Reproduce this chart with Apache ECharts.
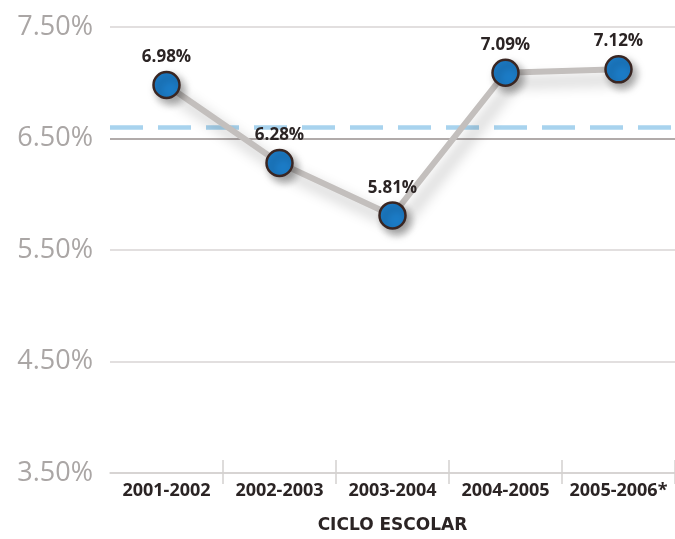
<!DOCTYPE html>
<html>
<head>
<meta charset="utf-8">
<script src="https://cdn.jsdelivr.net/npm/echarts@6/dist/echarts.min.js"></script>
<style>
  html, body { margin: 0; padding: 0; background: #fff; }
  #chart { width: 675px; height: 539px; }
</style>
</head>
<body>
<div id="chart"></div>
<script>
// School cycles and the rate recorded for each one
const cycles = ['2001-2002', '2002-2003', '2003-2004', '2004-2005', '2005-2006*'];
const rates = [6.98, 6.28, 5.81, 7.09, 7.12];
// Reference level drawn as a dashed line
const referenceRate = [6.6];
// Emphasised grid level
const baseRate = [6.5];
// Y axis range and step
const yTicks = [3.5, 4.5, 5.5, 6.5, 7.5];

const chart = echarts.init(document.getElementById('chart'));

const fmt = v => v.toFixed(2) + '%';
const dividerStyle = { color: '#d4d1d0', width: 1.5 };

chart.setOption({
  animation: false,
  grid: { left: 110, right: -5, top: 27, bottom: 56 },
  xAxis: [
    {
      type: 'category',
      data: cycles,
      position: 'bottom',
      boundaryGap: true,
      axisLine: { show: true, lineStyle: dividerStyle },
      axisTick: { show: true, length: 11, interval: (i) => i > 0, lineStyle: dividerStyle },
      axisLabel: {
        interval: 0,
        color: '#2b2424', fontFamily: 'Open Sans', fontWeight: 'bold', fontSize: 18, margin: 9
      },
      name: 'CICLO ESCOLAR',
      nameLocation: 'middle',
      nameGap: 44,
      nameTextStyle: {
        color: '#2b2424', fontFamily: 'DejaVu Sans', fontWeight: 'bold', fontSize: 17
      },
      splitLine: { show: false }
    },
    {
      type: 'category',
      data: cycles,
      position: 'bottom',
      offset: 0,
      boundaryGap: true,
      axisLine: { show: false },
      axisTick: { show: true, inside: true, length: 13, interval: (i) => i > 0, lineStyle: dividerStyle },
      axisLabel: { show: false },
      splitLine: { show: false }
    }
  ],
  yAxis: {
    type: 'value',
    min: yTicks[0],
    max: yTicks[yTicks.length - 1],
    interval: yTicks[1] - yTicks[0],
    axisLine: { show: false },
    axisTick: { show: false },
    axisLabel: {
      formatter: fmt,
      color: '#aaa6a5',
      fontFamily: 'Open Sans',
      fontSize: 27,
      margin: 17
    },
    splitLine: { show: true, lineStyle: { color: '#d8d5d4', width: 1.5 } }
  },
  series: [
    {
      type: 'line',
      data: rates,
      xAxisIndex: 0,
      symbol: 'circle',
      symbolSize: 26,
      itemStyle: {
        color: '#1c7cc7',
        borderColor: '#3a2622',
        borderWidth: 2.5,
        shadowColor: 'rgba(0,0,0,0.35)',
        shadowBlur: 8,
        shadowOffsetX: 4,
        shadowOffsetY: 5
      },
      lineStyle: {
        color: '#c3bfbd',
        width: 6,
        shadowColor: 'rgba(0,0,0,0.28)',
        shadowBlur: 14,
        shadowOffsetX: 8,
        shadowOffsetY: 10
      },
      label: {
        show: true,
        position: 'top',
        distance: 5,
        formatter: p => fmt(p.value),
        color: '#2b2424',
        fontFamily: 'Open Sans',
        fontWeight: 'bold',
        fontSize: 17
      },
      // horizontal reference lines, kept beneath the data line and labels
      markLine: {
        z: 0,
        silent: true,
        symbol: 'none',
        label: { show: false },
        data: [
          { yAxis: baseRate[0], lineStyle: { color: '#b1abaa', width: 2, type: 'solid' } },
          { yAxis: referenceRate[0], lineStyle: { color: '#a8d3ee', width: 4.5, type: [33, 15] } }
        ]
      },
      z: 3
    }
  ]
});
</script>
</body>
</html>
